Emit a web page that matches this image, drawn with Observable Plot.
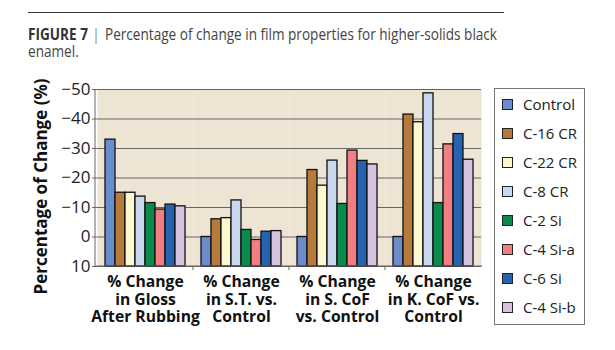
<!DOCTYPE html>
<html>
<head>
<meta charset="utf-8">
<script src="https://cdn.jsdelivr.net/npm/d3@7"></script>
<script src="https://cdn.jsdelivr.net/npm/@observablehq/plot@0.6"></script>
<style>
  html, body { margin: 0; padding: 0; background: #fff; }
  #wrap { position: relative; width: 615px; height: 350px; overflow: hidden; font-family: "Open Sans", sans-serif; }
  #rule { position: absolute; left: 28px; top: 12px; width: 476px; height: 0; border-top: 1.3px solid #333; }
  .tl { position: absolute; left: 28px; font-size: 15.5px; line-height: 16px; color: #444; white-space: nowrap; transform-origin: left top; }
  .tl b { font-weight: bold; color: #333; }
  .tl .bar { color: #888; margin: 0 6px 0 5px; }
  #chart { position: absolute; left: 0; top: 65px; }
  #legend { position: absolute; left: 494px; top: 88px; width: 91px; height: 237px; border: 1px solid #777; box-sizing: border-box; background: #fff; }
  .item { position: absolute; left: 7px; font-size: 15px; color: #222; height: 20px; line-height: 20px; white-space: nowrap; }
  .sw { display: inline-block; width: 9px; height: 9px; border: 1px solid #222; vertical-align: middle; margin-right: 10px; margin-top: -2px; }
</style>
</head>
<body>
<div id="wrap">
  <div id="rule"></div>
  <div class="tl" id="t1" style="top:26px"><b>FIGURE 7</b><span class="bar">|</span>Percentage of change in film properties for higher-solids black</div>
  <div class="tl" id="t2" style="top:43px">enamel.</div>
  <div id="chart"></div>
  <div id="legend"></div>
</div>
<script>
const categories = [
  "% Change\nin Gloss\nAfter Rubbing",
  "% Change\nin S.T. vs.\nControl",
  "% Change\nin S. CoF\nvs. Control",
  "% Change\nin K. CoF vs.\nControl"
];
const seriesNames = ["Control", "C-16 CR", "C-22 CR", "C-8 CR", "C-2 Si", "C-4 Si-a", "C-6 Si", "C-4 Si-b"];
const seriesColors = ["#6b8dcd", "#b57a3c", "#fdf9cf", "#c8d8ee", "#0b8a4c", "#ef7f82", "#2563b0", "#d7c3e0"];
const controlValues = [-33, 0, 0, 0];
const c16crValues = [-15, -6, -22.7, -41.5];
const c22crValues = [-15, -6.4, -17.4, -38.9];
const c8crValues = [-13.7, -12.4, -25.9, -48.7];
const c2siValues = [-11.5, -2.4, -11.2, -11.5];
const c4siaValues = [-9.3, 1, -29.3, -31.4];
const c6siValues = [-11, -1.8, -25.8, -34.9];
const c4sibValues = [-10.4, -2, -24.6, -26.2];
const yTicks = [-50, -40, -30, -20, -10, 0, 10];
const yTitle = "Percentage of Change (%)";

const allValues = [controlValues, c16crValues, c22crValues, c8crValues, c2siValues, c4siaValues, c6siValues, c4sibValues];
const data = [];
seriesNames.forEach((s, i) => categories.forEach((c, j) => data.push({series: s, category: c, value: allValues[i][j]})));

// title: fit first line to the reference width
const t1 = document.getElementById("t1");
const w1 = t1.getBoundingClientRect().width;
const sx = 469 / w1;
t1.style.transform = `scaleX(${sx})`;
document.getElementById("t2").style.transform = `scaleX(${sx})`;

const chart = Plot.plot({
  width: 615,
  height: 285,
  marginLeft: 95,
  marginRight: 133,
  marginTop: 24,
  marginBottom: 84,
  style: {fontFamily: "Open Sans, sans-serif", background: "transparent"},
  fx: {domain: categories, padding: 0, label: null},
  x: {domain: seriesNames, paddingInner: 0, paddingOuter: 0.74, axis: null},
  y: {domain: [10, -50], ticks: yTicks, label: null},
  color: {domain: seriesNames, range: seriesColors},
  marks: [
    Plot.frame({fill: "#ede4d4", stroke: null}),
    Plot.gridY(yTicks, {stroke: "#666", strokeOpacity: 1, strokeWidth: 1}),
    Plot.barY(data, {fx: "category", x: "series", y1: 10, y2: "value", fill: "series", stroke: "#111", strokeWidth: 1.3}),
    Plot.axisY({ticks: yTicks, tickSize: 5, tickPadding: 2, fontSize: 17, fill: "#222", stroke: "#666", label: null}),
    Plot.axisFx({anchor: "bottom", tickSize: 0, tickPadding: 8, fontSize: 15.7, fontWeight: "bold", fill: "#111", lineHeight: 1.12, label: null})
  ]
});
document.getElementById("chart").appendChild(chart);

// axis lines, separator ticks between category groups, y title
const svg = d3.select(chart);
const fxScale = chart.scale("fx");
const yScale = chart.scale("y");
const yb = yScale.apply(10);
const yt = yScale.apply(-50);
svg.append("line").attr("x1", 95).attr("x2", 95).attr("y1", yt).attr("y2", yb).attr("stroke", "#666");
svg.append("line").attr("x1", 95).attr("x2", 615 - 133).attr("y1", yb).attr("y2", yb).attr("stroke", "#666");
categories.forEach((c, i) => {
  const xx = fxScale.apply(c);
  if (i > 0) svg.append("line").attr("x1", xx).attr("x2", xx).attr("y1", yb).attr("y2", yb + 4).attr("stroke", "#666");
});
svg.append("text")
  .attr("transform", `translate(47,${(yt + yb) / 2 + 9}) rotate(-90)`)
  .attr("text-anchor", "middle")
  .attr("font-size", 17).attr("font-weight", "bold").attr("fill", "#111")
  .attr("font-family", "Open Sans, sans-serif")
  .text(yTitle);

const legend = document.getElementById("legend");
seriesNames.forEach((s, i) => {
  const d = document.createElement("div");
  d.className = "item";
  d.style.top = (5 + i * 29) + "px";
  d.innerHTML = `<span class="sw" style="background:${seriesColors[i]}"></span>${s}`;
  legend.appendChild(d);
});
</script>
</body>
</html>
